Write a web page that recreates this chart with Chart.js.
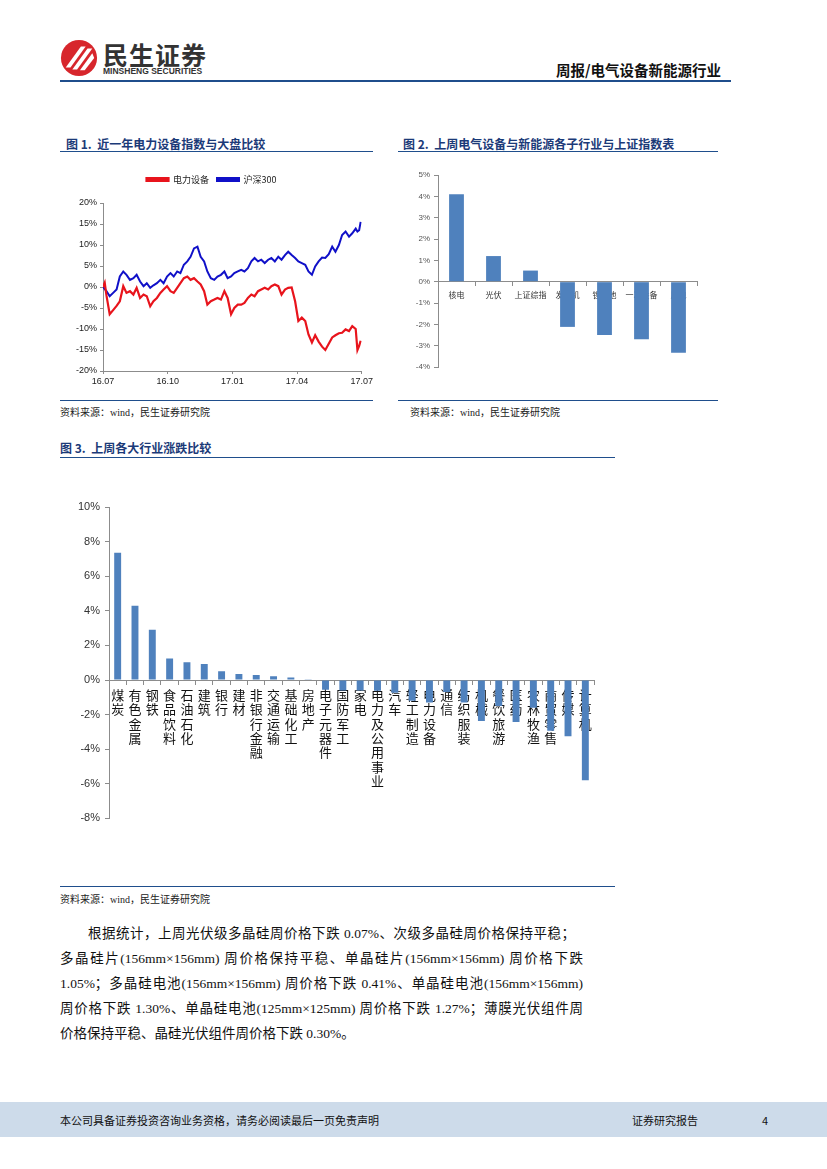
<!DOCTYPE html>
<html>
<head>
<meta charset="utf-8">
<script src="https://cdn.jsdelivr.net/npm/chart.js@4.4.1/dist/chart.umd.min.js"></script>
<style>
  body { margin: 0; width: 827px; height: 1169px; position: relative; background: #fff; font-family: "Noto Sans CJK SC", "Liberation Sans", sans-serif; overflow: hidden; }
  .abs { position: absolute; line-height: 1; }
  .rule { position: absolute; height: 2px; background: #1f4e8c; }
  .ftitle { position: absolute; font-size: 12px; font-weight: bold; color: #1b3a78; white-space: nowrap; }
  .src { position: absolute; font-size: 10px; color: #222; white-space: nowrap; font-family: "Liberation Serif", "Noto Sans CJK SC", serif; }
  .para { position: absolute; left: 60px; width: 523px; font-size: 13.5px; color: #111; text-align: justify; text-align-last: justify; white-space: nowrap; font-family: "Liberation Serif", "Noto Sans CJK SC", serif; }
  canvas { position: absolute; }
</style>
</head>
<body>
<!-- header -->
<svg class="abs" style="left:60px;top:39px" width="38" height="38" viewBox="0 0 40 40">
  <circle cx="20" cy="20" r="19" fill="#d7262c"/>
  <path d="M6 30 L22 8 L27 8 L11 30 Z" fill="#fff"/>
  <path d="M13 32 L29 10 L34 10 L18 32 Z" fill="#fff"/>
  <path d="M21 33 L34 15 L36 20 L26 33 Z" fill="#fff"/>
</svg>
<div class="abs" style="left:103px;top:42px;font-size:25px;font-weight:bold;color:#333;letter-spacing:1px">民生证券</div>
<div class="abs" style="left:103px;top:67px;font-size:8.5px;font-weight:bold;color:#333;font-family:'Liberation Sans'">MINSHENG SECURITIES</div>
<div class="abs" style="left:556px;top:63px;font-size:14.5px;font-weight:bold;color:#111">周报/电气设备新能源行业</div>
<div class="rule" style="left:60px;top:80px;width:671px;height:2px"></div>

<!-- figure titles -->
<div class="ftitle" style="left:66px;top:135px">图 1.&nbsp;&nbsp;近一年电力设备指数与大盘比较</div>
<div class="rule" style="left:60px;top:151px;width:313px;height:1px"></div>
<div class="ftitle" style="left:403px;top:135px">图 2.&nbsp;&nbsp;上周电气设备与新能源各子行业与上证指数表</div>
<div class="rule" style="left:398px;top:151px;width:320px;height:1px"></div>

<div class="rule" style="left:60px;top:400px;width:313px;height:1px"></div>
<div class="rule" style="left:398px;top:400px;width:320px;height:1px"></div>
<div class="src" style="left:60px;top:404px">资料来源：wind，民生证券研究院</div>
<div class="src" style="left:410px;top:404px">资料来源：wind，民生证券研究院</div>

<div class="ftitle" style="left:60px;top:439px">图 3.&nbsp;&nbsp;上周各大行业涨跌比较</div>
<div class="rule" style="left:60px;top:457px;width:555px;height:1px"></div>
<div class="rule" style="left:60px;top:886px;width:555px;height:1px"></div>
<div class="src" style="left:60px;top:891px">资料来源：wind，民生证券研究院</div>

<!-- paragraph -->
<div class="para" style="top:922px;left:88px;width:487px">根据统计，上周光伏级多晶硅周价格下跌 0.07%、次级多晶硅周价格保持平稳；</div>
<div class="para" style="top:947px">多晶硅片(156mm×156mm) 周价格保持平稳、单晶硅片(156mm×156mm) 周价格下跌</div>
<div class="para" style="top:972px">1.05%；多晶硅电池(156mm×156mm) 周价格下跌 0.41%、单晶硅电池(156mm×156mm)</div>
<div class="para" style="top:997px">周价格下跌 1.30%、单晶硅电池(125mm×125mm) 周价格下跌 1.27%；薄膜光伏组件周</div>
<div class="para" style="top:1022px;text-align-last:left">价格保持平稳、晶硅光伏组件周价格下跌 0.30%。</div>

<!-- footer -->
<div class="abs" style="left:0;top:1102px;width:827px;height:35px;background:#cddbea"></div>
<div class="abs" style="left:60px;top:1115px;font-size:11px;color:#111">本公司具备证券投资咨询业务资格，请务必阅读最后一页免责声明</div>
<div class="abs" style="left:632px;top:1115px;font-size:11px;color:#111">证券研究报告</div>
<div class="abs" style="left:762px;top:1115px;font-size:11px;color:#111">4</div>

<canvas id="c1" style="left:60px;top:165px" width="315" height="230"></canvas>
<canvas id="c2" style="left:398px;top:165px" width="320" height="215"></canvas>
<canvas id="c3" style="left:60px;top:490px" width="555" height="340"></canvas>

<script>
// 图1: months since 2016-07, index change (%)
const monthTicks = ['16.07', '16.10', '17.01', '17.04', '17.07'];
const months = [0, 0.08, 0.16, 0.31, 0.47, 0.63, 0.78, 0.94, 1.09, 1.25, 1.41, 1.56, 1.72, 1.88, 2.03, 2.19, 2.34, 2.5, 2.66, 2.81,
  2.97, 3.13, 3.28, 3.44, 3.59, 3.75, 3.91, 4.06, 4.22, 4.38, 4.53, 4.69, 4.84, 5.0, 5.16, 5.31, 5.47, 5.63, 5.78, 5.94,
  6.09, 6.25, 6.41, 6.56, 6.72, 6.88, 7.03, 7.19, 7.34, 7.5, 7.66, 7.81, 7.97, 8.13, 8.28, 8.44, 8.59, 8.75, 8.91, 9.06,
  9.22, 9.38, 9.53, 9.69, 9.84, 10.0, 10.16, 10.31, 10.47, 10.63, 10.78, 10.94, 11.09, 11.25, 11.41, 11.56, 11.72, 11.8, 11.88, 11.95];
const powerEquip = [0, 1.0, -2.0, -6.5, -5.5, -4.5, -3.4, 0.2, -1.4, -1.0, -1.8, -0.2, -2.6, -1.8, -2.2, -4.6, -3.4, -2.6, -1.4, -0.6,
  0.2, -1.0, -1.4, -0.2, 0.9, 2.1, 2.5, 1.7, 2.1, 1.3, 0.6, -1.0, -4.2, -3.4, -3.0, -2.6, -3.0, -1.0, -2.6, -6.5,
  -5.0, -4.2, -4.2, -3.8, -2.6, -1.8, -2.2, -1.0, -0.6, -0.2, -0.6, 0.2, 0.6, 0.2, -1.8, -0.6, -0.2, -0.1, -3.4, -8.1,
  -7.3, -8.1, -11.3, -13.2, -11.5, -13.0, -14.2, -15.0, -13.5, -12.0, -11.5, -11.0, -10.9, -10.1, -10.5, -9.3, -10.0, -15.0, -14.0, -12.8];
const hs300 = [0, -0.5, -1.0, -2.2, -1.4, -0.6, 2.5, 3.7, 2.9, 1.7, 2.1, 2.9, 1.3, 0.2, 0.9, -0.2, 0.4, 0.9, 1.7, 0.9,
  2.5, 3.3, 2.5, 3.7, 3.3, 5.3, 6.1, 7.2, 9.2, 9.6, 7.2, 6.1, 3.7, 2.1, 1.7, 2.5, 2.9, 3.7, 2.1, 2.5,
  3.3, 3.7, 4.1, 3.7, 4.5, 6.1, 6.9, 6.1, 6.5, 5.7, 6.5, 6.9, 6.1, 7.2, 6.5, 7.6, 8.4, 7.6, 6.9, 6.1,
  5.7, 5.3, 3.7, 2.9, 4.9, 6.1, 7.0, 6.9, 7.8, 9.6, 8.4, 10.0, 12.4, 13.2, 12.0, 12.8, 13.9, 13.2, 13.5, 15.5];

// 图2
const subSectors = ['核电', '光伏', '上证综指', '发电机', '锂电池', '一次设备', '风电'];
const subChange = [4.1, 1.2, 0.52, -2.12, -2.5, -2.7, -3.33];

// 图3
const industries = ['煤炭', '有色金属', '钢铁', '食品饮料', '石油石化', '建筑', '银行', '建材', '非银行金融', '交通运输',
  '基础化工', '房地产', '电子元器件', '国防军工', '家电', '电力及公用事业', '汽车', '轻工制造', '电力设备', '通信',
  '纺织服装', '机械', '餐饮旅游', '医药', '农林牧渔', '商贸零售', '传媒', '计算机'];
const industryChange = [7.36, 4.29, 2.91, 1.25, 1.02, 0.92, 0.5, 0.35, 0.29, 0.21,
  0.15, 0.02, -0.57, -0.6, -0.6, -0.62, -0.73, -1.2, -1.3, -0.7,
  -1.3, -2.37, -1.5, -2.43, -1.6, -2.93, -3.25, -5.8];

const axisGray = '#8c8c8c';
const pct = v => v + '%';

// legend sits higher above the plot in the original
const legendGap = {
  id: 'legendGap',
  beforeInit(chart) {
    const fit = chart.legend.fit;
    chart.legend.fit = function () { fit.call(this); this.height += 9; };
  }
};

new Chart(document.getElementById('c1'), {
  type: 'line',
  data: {
    datasets: [
      { label: '电力设备', data: months.map((m, i) => ({ x: m, y: powerEquip[i] })), borderColor: '#e8141c', backgroundColor: '#e8141c', borderWidth: 2.2, pointRadius: 0, tension: 0 },
      { label: '沪深300', data: months.map((m, i) => ({ x: m, y: hs300[i] })), borderColor: '#1010c8', backgroundColor: '#1010c8', borderWidth: 2, pointRadius: 0, tension: 0 }
    ]
  },
  options: {
    responsive: false, animation: false,
    layout: { padding: { top: 2, right: 12, bottom: 4, left: 0 } },
    plugins: {
      legend: { labels: { boxWidth: 22, boxHeight: 3, padding: 8, color: '#222', font: { size: 9, family: 'Noto Sans CJK SC' } } },
      tooltip: { enabled: false }
    },
    scales: {
      x: {
        type: 'linear', min: 0, max: 12,
        afterFit: s => { s.height = 20; },
        ticks: { stepSize: 3, color: '#222', font: { size: 9, family: 'Liberation Sans' }, padding: 2, maxRotation: 0,
          callback: v => monthTicks[v / 3] },
        grid: { drawOnChartArea: false, tickLength: 3, color: axisGray },
        border: { color: axisGray }
      },
      y: {
        min: -20, max: 20,
        afterFit: s => { s.width = 43; },
        ticks: { stepSize: 5, color: '#222', font: { size: 9, family: 'Liberation Sans' }, padding: 3, callback: pct },
        grid: { drawOnChartArea: false, tickLength: 3, color: axisGray },
        border: { color: axisGray }
      }
    }
  },
  plugins: [legendGap]
});

new Chart(document.getElementById('c2'), {
  type: 'bar',
  data: { labels: subSectors, datasets: [{ data: subChange, backgroundColor: '#4f81bd', barPercentage: 0.4, categoryPercentage: 1 }] },
  options: {
    responsive: false, animation: false,
    layout: { padding: { top: 10, right: 21, bottom: 13, left: 0 } },
    plugins: { legend: { display: false }, tooltip: { enabled: false } },
    scales: {
      x: {
        position: { y: 0 }, z: 1,
        afterFit: s => { s.height = 0; },
        ticks: { color: '#333', font: { size: 8, family: 'Noto Sans CJK SC' }, padding: 4, maxRotation: 0, autoSkip: false },
        grid: { offset: true, drawOnChartArea: false, tickLength: 4, color: axisGray },
        border: { color: axisGray }
      },
      y: {
        min: -4, max: 5,
        afterFit: s => { s.width = 40; },
        ticks: { stepSize: 1, color: '#555', font: { size: 8, family: 'Liberation Sans' }, padding: 4, callback: pct },
        grid: { drawOnChartArea: false, tickLength: 4, color: axisGray },
        border: { color: axisGray }
      }
    }
  }
});

new Chart(document.getElementById('c3'), {
  type: 'bar',
  data: { labels: industries.map(s => s.split('')), datasets: [{ data: industryChange, backgroundColor: '#4f81bd', barPercentage: 0.4, categoryPercentage: 1 }] },
  options: {
    responsive: false, animation: false,
    layout: { padding: { top: 17, right: 21, bottom: 10, left: 0 } },
    plugins: { legend: { display: false }, tooltip: { enabled: false } },
    scales: {
      x: {
        position: { y: 0 }, z: 1,
        afterFit: s => { s.height = 0; },
        ticks: { color: '#111', font: { size: 13, family: 'Noto Sans CJK SC', lineHeight: 1.1 }, padding: 4, maxRotation: 0, autoSkip: false },
        grid: { offset: true, drawOnChartArea: false, tickLength: 4, color: axisGray },
        border: { color: axisGray }
      },
      y: {
        min: -8, max: 10,
        afterFit: s => { s.width = 49; },
        ticks: { stepSize: 2, color: '#333', font: { size: 11, family: 'Liberation Sans' }, padding: 5, callback: pct },
        grid: { drawOnChartArea: false, tickLength: 4, color: axisGray },
        border: { color: axisGray }
      }
    }
  }
});
</script>
</body>
</html>
